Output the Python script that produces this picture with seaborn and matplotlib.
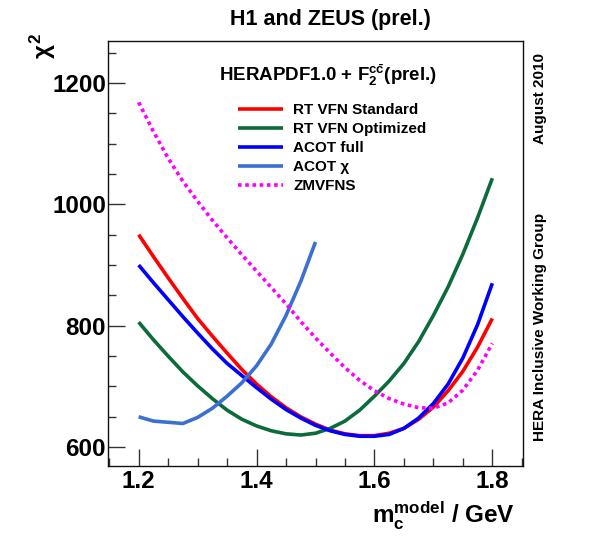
import numpy as np
import pandas as pd
import seaborn as sns
import matplotlib
matplotlib.use("Agg")
import matplotlib.pyplot as plt
from matplotlib.ticker import MultipleLocator

# charm mass scan points (GeV)
m_c = [1.200, 1.225, 1.250, 1.275, 1.300, 1.325, 1.350, 1.375, 1.400, 1.425,
       1.450, 1.475, 1.500, 1.525, 1.550, 1.575, 1.600, 1.625, 1.650, 1.675,
       1.700, 1.725, 1.750, 1.775, 1.800]

chi2_rt_standard = [950, 914, 879, 845, 812, 783, 755, 728, 704, 683,
                    665, 650, 638, 628, 622, 619, 619, 623, 631, 646,
                    666, 693, 725, 765, 812]
chi2_rt_optimized = [806, 777, 750, 724, 701, 680, 661, 646, 635, 627,
                     622, 620, 623, 631, 643, 661, 684, 709, 738, 774,
                     817, 864, 918, 978, 1043]
chi2_acot_full = [900, 871, 843, 815, 788, 762, 738, 718, 698, 679,
                  662, 648, 636, 627, 621, 618, 618, 621, 631, 648,
                  672, 704, 747, 802, 870]
chi2_zmvfns = [1168, 1120, 1076, 1038, 1005, 974, 945, 917, 890, 863,
               836, 807, 780, 755, 731, 710, 693, 680, 671, 665,
               664, 673, 694, 727, 771]

m_c_chi = [1.200, 1.225, 1.250, 1.275, 1.300, 1.325, 1.350, 1.375, 1.400,
           1.425, 1.450, 1.475, 1.500]
chi2_acot_chi = [650, 643, 641, 639, 649, 664, 684, 706, 734,
                 770, 817, 873, 938]

series_labels = ["RT VFN Standard", "RT VFN Optimized", "ACOT full",
                 "ACOT \u03c7", "ZMVFNS"]
series_colors = ["#ff0000", "#0b6b3a", "#0000ff", "#3b6fd2", "#ff00ff"]

x_ticks = [1.2, 1.4, 1.6, 1.8]
y_ticks = [600, 800, 1000, 1200]

sns.set_style("white")
FONT = "Liberation Sans"
plt.rcParams["font.family"] = [FONT, "DejaVu Sans"]
plt.rcParams["font.weight"] = "bold"
plt.rcParams["text.color"] = "black"
plt.rcParams["axes.labelcolor"] = "black"
plt.rcParams["xtick.color"] = "black"
plt.rcParams["ytick.color"] = "black"
plt.rcParams["mathtext.fontset"] = "custom"
plt.rcParams["mathtext.rm"] = FONT + ":bold"
plt.rcParams["mathtext.it"] = FONT + ":bold"
plt.rcParams["mathtext.bf"] = FONT + ":bold"
plt.rcParams["mathtext.sf"] = FONT + ":bold"

W, H = 615, 540
fig = plt.figure(figsize=(W / 100, H / 100), dpi=100)
ax = fig.add_axes([108 / W, 1 - 466 / H, (523 - 108) / W, (466 - 41) / H])

curves = [
    (m_c, chi2_rt_standard, "-"),
    (m_c, chi2_rt_optimized, "-"),
    (m_c, chi2_acot_full, "-"),
    (m_c_chi, chi2_acot_chi, "-"),
    (m_c, chi2_zmvfns, (0, (1, 1))),
]
for (xs, ys, ls), lab, col in zip(curves, series_labels, series_colors):
    df = pd.DataFrame({"m_c": xs, "chi2": ys})
    sns.lineplot(data=df, x="m_c", y="chi2", ax=ax, color=col, lw=2.6,
                 linestyle=ls, label=lab, solid_capstyle="butt",
                 dash_capstyle="butt", solid_joinstyle="round")

ax.set_xlim(1.148, 1.852)
ax.set_ylim(569, 1269)
ax.set_xlabel("")
ax.set_ylabel("")

ax.set_xticks(x_ticks)
ax.set_xticklabels([f"{v:.1f}" for v in x_ticks])
ax.set_yticks(y_ticks)
ax.set_yticklabels([str(v) for v in y_ticks])
ax.xaxis.set_minor_locator(MultipleLocator(0.05))
ax.yaxis.set_minor_locator(MultipleLocator(50))
ax.tick_params(which="both", direction="in", color="#333333", width=1,
               bottom=True, left=True, top=False, right=False,
               labelsize=17.5, labelcolor="black")
ax.tick_params(axis="x", which="major", length=12, pad=3)
ax.tick_params(axis="x", which="minor", length=6)
ax.tick_params(axis="y", which="major", length=12, pad=1.5)
ax.tick_params(axis="y", which="minor", length=6)
for lbl in ax.get_xticklabels() + ax.get_yticklabels():
    lbl.set_fontweight("bold")
for sp in ax.spines.values():
    sp.set_visible(True)
    sp.set_color("#111111")
    sp.set_linewidth(1.0)

leg = ax.legend(loc="upper left", bbox_to_anchor=(238 / W, 1 - 103 / H),
                bbox_transform=fig.transFigure, frameon=False,
                prop={"family": FONT, "weight": "bold", "size": 11},
                handlelength=2.95, handletextpad=0.65, labelspacing=0.33,
                borderpad=0, borderaxespad=0)
for t in leg.get_texts():
    t.set_color("black")

fig.text(330 / W, 1 - 19 / H, "H1 and ZEUS (prel.)", ha="center",
         va="center", fontsize=15.5, fontweight="bold")
fig.text(328 / W, 1 - 75 / H, r"HERAPDF1.0 + F$_{2}^{c\bar{c}}$(prel.)",
         ha="center", va="center", fontsize=13.5, fontweight="bold")
fig.text(43 / W, 1 - 46 / H, r"$\chi^{2}$", rotation=90, ha="center",
         va="center", fontsize=17.5, fontweight="bold")
fig.text(515 / W, 1 - 523 / H, r"m$_{c}^{\mathrm{model}}$ / GeV",
         ha="right", va="baseline", fontsize=17.5, fontweight="bold")
fig.text(540 / W, 1 - 99 / H, "August 2010", rotation=90, ha="center",
         va="center", fontsize=11, fontweight="bold")
fig.text(540 / W, 1 - 327 / H, "HERA Inclusive Working Group", rotation=90,
         ha="center", va="center", fontsize=11, fontweight="bold")

fig.savefig("out.png", dpi=100, facecolor="white")
